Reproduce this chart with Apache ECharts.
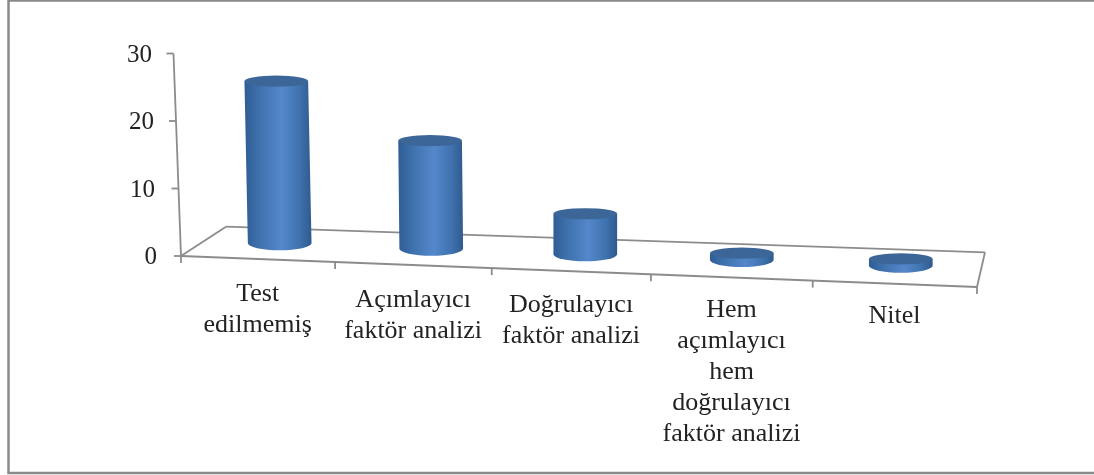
<!DOCTYPE html>
<html><head><meta charset="utf-8">
<style>html,body{margin:0;padding:0;background:#fff}#c{width:1094px;height:475px}</style>
<script src="https://cdn.jsdelivr.net/npm/echarts@6/dist/echarts.min.js"></script>
</head><body><div id="c"></div>
<script>
const categories = ['Test\nedilmemiş','Açımlayıcı\nfaktör analizi','Doğrulayıcı\nfaktör analizi','Hem\naçımlayıcı\nhem\ndoğrulayıcı\nfaktör analizi','Nitel'];
const values = [24,16,6,1,1];
const valueTicks = {min:0,max:30,step:10};
const labelShift = {0:0,10:2,20:3,30:5};
const serif = '"Liberation Serif","Times New Roman",serif';
const AXIS = '#8c8c8c';

function floorMap(cs){
  const L=cs.x,R=cs.x+cs.width,B=cs.y+cs.height;
  const p=[[L,B],[R,B+31],[R+8,B-3.7],[L+45,B-29.3]];
  return (u0,v)=>{
    const u=u0-0.04*u0*(1-u0);
    const f=[p[0][0]+(p[1][0]-p[0][0])*u,p[0][1]+(p[1][1]-p[0][1])*u];
    const b=[p[3][0]+(p[2][0]-p[3][0])*u,p[3][1]+(p[2][1]-p[3][1])*u];
    return [f[0]+(b[0]-f[0])*v,f[1]+(b[1]-f[1])*v];
  };
}
function line(a,b,w){return {type:'line',shape:{x1:a[0],y1:a[1],x2:b[0],y2:b[1]},style:{stroke:AXIS,lineWidth:w||1.8}};}

function renderFloor(params,api){
  const cs=params.coordSys,m=floorMap(cs),kids=[];
  const c=[m(0,0),m(1,0),m(1,1),m(0,1)];
  kids.push(line(c[0],c[1]),line(c[1],c[2]),line(c[2],c[3]),line(c[3],c[0]));
  const n=categories.length;
  for(let i=0;i<=n;i++){const t=m(i/n,0);kids.push(line([t[0],t[1]-0.5],[t[0],t[1]+7]));}
  // slanted value axis
  const lean=7.5/cs.height;
  const zero=api.coord([0,valueTicks.min])[1];
  const ax=v=>{const y=api.coord([0,v])[1];return [cs.x-(zero-y)*lean,y];};
  kids.push(line(ax(valueTicks.min),ax(valueTicks.max)));
  for(let v=valueTicks.min;v<=valueTicks.max;v+=valueTicks.step){const t=ax(v);kids.push(line([t[0]-7,t[1]],t));}
  return {type:'group',children:kids};
}
function renderCyl(params,api){
  const cs=params.coordSys,m=floorMap(cs);
  const i=api.value(0),v=api.value(1);
  const cx=api.coord([i,0])[0],band=api.size([1,0])[0];
  const b=m((cx-cs.x)/cs.width,0.53);
  const h=api.size([0,v])[1];
  const rx=band*0.2,ryB=7,ryT=5.6;
  const slant=Math.max(0,(583-b[0])/305*0.021)*h;
  const xb=b[0],yb=b[1],xt=xb-slant,yt=yb-h;
  const side=`M${xt-rx} ${yt}L${xb-rx} ${yb}A${rx} ${ryB} 0 0 0 ${xb+rx} ${yb}L${xt+rx} ${yt}Z`;
  const top=`M${xt-rx} ${yt}A${rx} ${ryT} 0 0 1 ${xt+rx} ${yt}A${rx} ${ryT} 0 0 1 ${xt-rx} ${yt}Z`;
  const grad={type:'linear',x:0,y:0,x2:1,y2:0,colorStops:[
    {offset:0,color:'#2f5c94'},{offset:0.18,color:'#3c6ea9'},{offset:0.55,color:'#5488cb'},{offset:0.82,color:'#3f72ae'},{offset:1,color:'#305a8e'}]};
  return {type:'group',children:[
    {type:'path',shape:{pathData:side},style:{fill:grad}},
    {type:'path',shape:{pathData:top},style:{fill:'#3c6698'}}
  ]};
}
function renderLabel(params,api){
  const cs=params.coordSys,m=floorMap(cs);
  const i=api.value(0);
  const cx=api.coord([i,0])[0];
  const x=m((cx-cs.x)/cs.width,0)[0];
  const y=cs.y+cs.height+20.5+(x-cs.x)*0.0337;
  return {type:'text',style:{text:categories[i],x:x,y:y,align:'center',verticalAlign:'top',
    font:'26px '+serif,fill:'#222',lineHeight:31}};
}
const chart=echarts.init(document.getElementById('c'),null,{renderer:'canvas'});
const rich={};
Object.keys(labelShift).forEach(k=>{rich['v'+k]={fontSize:25,fontFamily:serif,color:'#222',padding:[3,labelShift[k],0,0]};});
chart.setOption({
  animation:false,
  backgroundColor:'#fff',
  graphic:[{type:'rect',silent:true,shape:{x:8.5,y:0.5,width:1200,height:472.5},style:{fill:'none',stroke:'#8a8a8a',lineWidth:2.5},z:100}],
  grid:{left:181,top:53.5,width:796,height:202.5},
  xAxis:{type:'category',data:categories,axisLine:{show:false},axisTick:{show:false},axisLabel:{show:false},splitLine:{show:false}},
  yAxis:{type:'value',min:valueTicks.min,max:valueTicks.max,interval:valueTicks.step,axisLine:{show:false},axisTick:{show:false},splitLine:{show:false},
    axisLabel:{margin:24,align:'right',fontSize:25,fontFamily:serif,color:'#222',formatter:v=>`{v${v}|${v}}`,rich:rich}},
  series:[
    {type:'custom',renderItem:renderFloor,data:[[0,0]],silent:true,z:1,clip:false},
    {type:'custom',renderItem:renderCyl,data:values.map((v,i)=>[i,v]),encode:{x:0,y:1},z:2,clip:false},
    {type:'custom',renderItem:renderLabel,data:categories.map((c,i)=>[i,0]),encode:{x:0,y:1},z:3,clip:false}
  ]
});
</script></body></html>
